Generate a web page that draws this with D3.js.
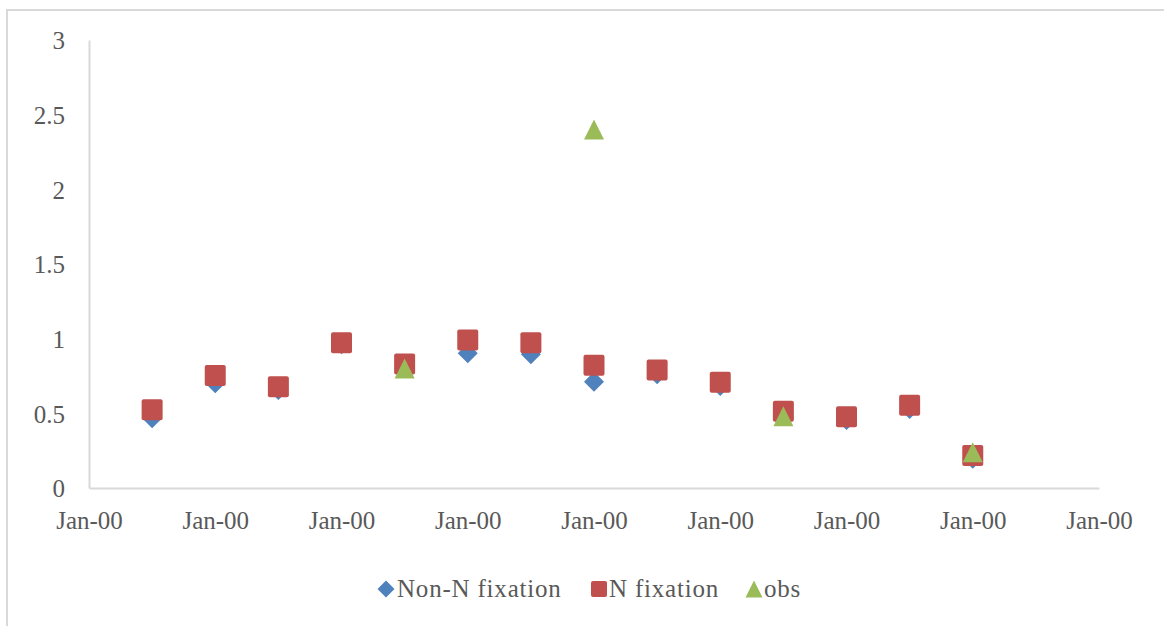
<!DOCTYPE html>
<html>
<head>
<meta charset="utf-8">
<script src="https://cdn.jsdelivr.net/npm/d3@7"></script>
<style>
  html, body { margin: 0; padding: 0; background: #fff; }
  svg { display: block; }
  text { font-family: "Liberation Serif", "Times New Roman", serif; fill: #595959; }
</style>
</head>
<body>
<svg id="chart" width="1164" height="626"></svg>
<script>
// Sampling times (days) and modelled / observed values
const xValues = [0.5, 1, 1.5, 2, 2.5, 3, 3.5, 4, 4.5, 5, 5.5, 6, 6.5, 7];
const nonNFixation = [0.467, 0.701, 0.656, 0.962, 0.82, 0.902, 0.895, 0.712, 0.761, 0.683, 0.49, 0.455, 0.529, 0.196];
const nFixation = [0.524, 0.753, 0.678, 0.973, 0.830, 0.991, 0.973, 0.822, 0.791, 0.708, 0.514, 0.477, 0.554, 0.218];
const obsX = [2.5, 4, 5.5, 7];
const obsValues = [0.80, 2.40, 0.48, 0.24];

const xTicks = [0, 1, 2, 3, 4, 5, 6, 7, 8];
const xTickLabel = "Jan-00";
const yTicks = [0, 0.5, 1, 1.5, 2, 2.5, 3];

const seriesNames = ["Non-N fixation", "N fixation", "obs"];
const colors = { nonN: "#4f81bd", nFix: "#c0504d", obs: "#9bbb59" };

const svg = d3.select("#chart");

// chart frame
svg.append("rect")
  .attr("x", 7).attr("y", 10)
  .attr("width", 1170).attr("height", 630)
  .attr("fill", "#fff")
  .attr("stroke", "#d9d9d9").attr("stroke-width", 2);

const x = d3.scaleLinear().domain([0, 8]).range([89, 1099]);
const y = d3.scaleLinear().domain([0, 3]).range([488, 40]);

// axes
const xAxis = d3.axisBottom(x).tickValues(xTicks).tickFormat(() => xTickLabel).tickSize(0).tickPadding(24);
const yAxis = d3.axisLeft(y).tickValues(yTicks).tickFormat(d3.format("")).tickSize(0).tickPadding(24);

const gx = svg.append("g").attr("transform", `translate(0,${y(0)})`).call(xAxis);
const gy = svg.append("g").attr("transform", `translate(${x(0)},0)`).call(yAxis);

[gx, gy].forEach(g => {
  g.select(".domain").attr("stroke", "#d9d9d9").attr("stroke-width", 2);
  g.selectAll("text").style("font-family", '"Liberation Serif", serif')
    .style("font-size", "25px").attr("fill", "#595959");
});
gx.selectAll("text").attr("dy", "0.35em").attr("y", 32);
gy.selectAll("text").attr("x", -24).attr("dy", "0.35em");

// marker shapes centred on (0,0)
function diamondPath(s) {
  const h = s / 2;
  return `M0,${-h}L${h},0L0,${h}L${-h},0Z`;
}
function squarePath(s) {
  const p = d3.path();
  const h = s / 2, r = 2;
  p.moveTo(-h + r, -h);
  p.lineTo(h - r, -h); p.quadraticCurveTo(h, -h, h, -h + r);
  p.lineTo(h, h - r); p.quadraticCurveTo(h, h, h - r, h);
  p.lineTo(-h + r, h); p.quadraticCurveTo(-h, h, -h, h - r);
  p.lineTo(-h, -h + r); p.quadraticCurveTo(-h, -h, -h + r, -h);
  p.closePath();
  return p.toString();
}
function trianglePath(s) {
  const h = s / 2;
  return `M0,${-h}L${h},${h}L${-h},${h}Z`;
}

const plot = svg.append("g");

plot.selectAll(".nonN").data(xValues.map((d, i) => [d, nonNFixation[i]]))
  .join("path").attr("class", "nonN")
  .attr("transform", d => `translate(${x(d[0])},${y(d[1])})`)
  .attr("d", diamondPath(20)).attr("fill", colors.nonN);

plot.selectAll(".nFix").data(xValues.map((d, i) => [d, nFixation[i]]))
  .join("path").attr("class", "nFix")
  .attr("transform", d => `translate(${x(d[0])},${y(d[1])})`)
  .attr("d", squarePath(21)).attr("fill", colors.nFix);

plot.selectAll(".obs").data(obsX.map((d, i) => [d, obsValues[i]]))
  .join("path").attr("class", "obs")
  .attr("transform", d => `translate(${x(d[0])},${y(d[1])})`)
  .attr("d", trianglePath(20)).attr("fill", colors.obs);

// legend
const legendItems = [
  { name: seriesNames[0], cx: 386, tx: 397, path: diamondPath(17), color: colors.nonN },
  { name: seriesNames[1], cx: 599, tx: 609, path: squarePath(16), color: colors.nFix },
  { name: seriesNames[2], cx: 754, tx: 764, path: trianglePath(17), color: colors.obs }
];
const legend = svg.append("g");
legendItems.forEach(it => {
  legend.append("path").attr("transform", `translate(${it.cx},589)`)
    .attr("d", it.path).attr("fill", it.color);
  legend.append("text").attr("x", it.tx).attr("y", 597)
    .style("font-size", "25px").style("letter-spacing", "0.8px")
    .text(it.name);
});
</script>
</body>
</html>
